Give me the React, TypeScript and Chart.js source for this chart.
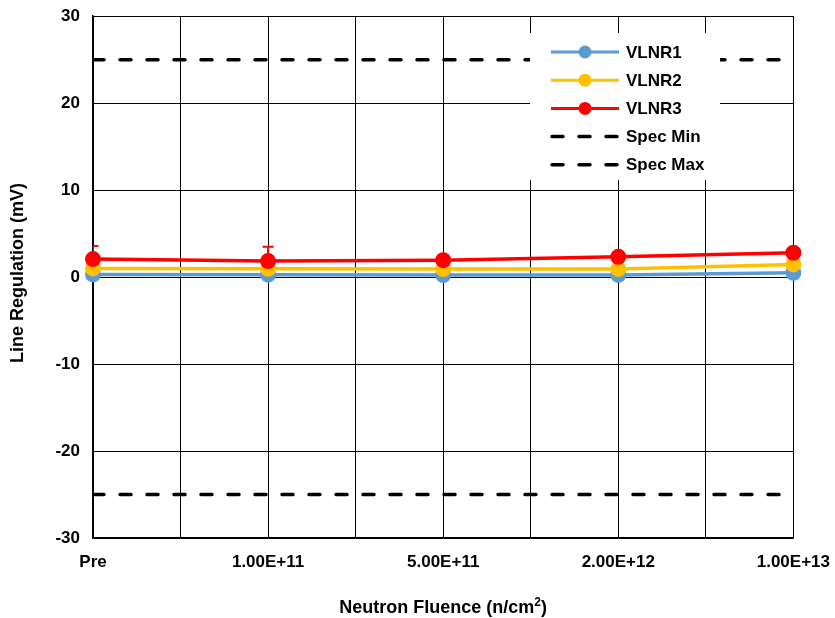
import React, { useEffect, useRef } from "react";
import { Chart, registerables } from "chart.js";

Chart.register(...registerables);

const categories = ["Pre", "1.00E+11", "5.00E+11", "2.00E+12", "1.00E+13"];
const vlnr1 = [0.31, 0.28, 0.23, 0.25, 0.5];
const vlnr2 = [1.0, 0.95, 0.92, 0.92, 1.46];
const vlnr3 = [2.07, 1.84, 1.95, 2.33, 2.8];
const vlnr3ErrUp = [1.5, 1.65, 0, 0, 0];
const specMin = [-25, -25, -25, -25, -25];
const specMax = [25, 25, 25, 25, 25];
const yTicks = [-30, -20, -10, 0, 10, 20, 30];
const xTitle = "Neutron Fluence (n/cm";
const xTitleSup = "2";
const xTitleEnd = ")";
const yTitle = "Line Regulation (mV)";

const BLUE = "#5B9BD5";
const YELLOW = "#FFC000";
const RED = "#FF0000";
const FONT = "'Liberation Sans', Arial, sans-serif";
const OFFSET_Y = 7;

const legendItems = [
  { label: "VLNR1", color: BLUE, dashed: false },
  { label: "VLNR2", color: YELLOW, dashed: false },
  { label: "VLNR3", color: RED, dashed: false },
  { label: "Spec Min", color: "#000", dashed: true },
  { label: "Spec Max", color: "#000", dashed: true },
];

const toXY = (arr: number[]) => arr.map((v, i) => ({ x: i, y: v }));

const errorBarPlugin = {
  id: "errorBars",
  beforeDatasetsDraw(chart: any) {
    const { ctx, chartArea, scales } = chart;
    ctx.save();
    ctx.beginPath();
    ctx.rect(chartArea.left, chartArea.top, chartArea.right - chartArea.left, chartArea.bottom - chartArea.top);
    ctx.clip();
    ctx.strokeStyle = RED;
    ctx.lineWidth = 2;
    vlnr3.forEach((v, i) => {
      const e = vlnr3ErrUp[i];
      if (!e) return;
      const x = scales.x.getPixelForValue(i);
      const y0 = scales.y.getPixelForValue(v);
      const y1 = scales.y.getPixelForValue(v + e);
      ctx.beginPath();
      ctx.moveTo(x, y0);
      ctx.lineTo(x, y1);
      ctx.moveTo(x - 5.5, y1);
      ctx.lineTo(x + 5.5, y1);
      ctx.stroke();
    });
    ctx.restore();
  },
};

const titlesPlugin = {
  id: "axisTitles",
  afterDraw(chart: any) {
    const { ctx, chartArea } = chart;
    ctx.save();
    ctx.fillStyle = "#000";
    ctx.font = `bold 18px ${FONT}`;
    const w1 = ctx.measureText(xTitle).width;
    ctx.font = `bold 12px ${FONT}`;
    const w2 = ctx.measureText(xTitleSup).width;
    ctx.font = `bold 18px ${FONT}`;
    const w3 = ctx.measureText(xTitleEnd).width;
    const total = w1 + w2 + w3;
    const cx = (chartArea.left + chartArea.right) / 2;
    let x = cx - total / 2;
    const base = 613 + OFFSET_Y;
    ctx.textAlign = "left";
    ctx.textBaseline = "alphabetic";
    ctx.fillText(xTitle, x, base);
    x += w1;
    ctx.font = `bold 12px ${FONT}`;
    ctx.fillText(xTitleSup, x, base - 7);
    x += w2;
    ctx.font = `bold 18px ${FONT}`;
    ctx.fillText(xTitleEnd, x, base);
    ctx.translate(18, (chartArea.top + chartArea.bottom) / 2 - 4);
    ctx.rotate(-Math.PI / 2);
    ctx.textAlign = "center";
    ctx.textBaseline = "middle";
    ctx.fillText(yTitle, 0, 0);
    ctx.restore();
  },
};

const legendPlugin = {
  id: "insideLegend",
  afterDatasetsDraw(chart: any) {
    const { ctx } = chart;
    ctx.save();
    ctx.fillStyle = "#fff";
    ctx.fillRect(530, 33 + OFFSET_Y, 190, 147);
    legendItems.forEach((it, i) => {
      const y = 52 + OFFSET_Y + i * 28.2;
      ctx.strokeStyle = it.color;
      ctx.lineWidth = it.dashed ? 3.5 : 3;
      if (it.dashed) {
        ctx.setLineDash([11, 16]);
        ctx.lineCap = "round";
      } else {
        ctx.setLineDash([]);
        ctx.lineCap = "butt";
      }
      ctx.beginPath();
      ctx.moveTo(it.dashed ? 552 : 551, y);
      ctx.lineTo(619, y);
      ctx.stroke();
      ctx.setLineDash([]);
      if (!it.dashed) {
        ctx.fillStyle = it.color;
        ctx.beginPath();
        ctx.arc(585, y, 6.5, 0, Math.PI * 2);
        ctx.fill();
      }
      ctx.fillStyle = "#000";
      ctx.font = `bold 17px ${FONT}`;
      ctx.textBaseline = "middle";
      ctx.textAlign = "left";
      ctx.fillText(it.label, 626, y + 1);
    });
    ctx.restore();
  },
};

export default function App() {
  const ref = useRef<HTMLCanvasElement | null>(null);
  useEffect(() => {
    document.body.style.margin = "0";
    const canvas = ref.current;
    if (!canvas) return;
    const lineDs = (label: string, data: number[], color: string, order: number) => ({
      label,
      data: toXY(data),
      borderColor: color,
      backgroundColor: color,
      borderWidth: 3.5,
      pointRadius: 8,
      pointHoverRadius: 8,
      pointBorderWidth: 0,
      pointBackgroundColor: color,
      clip: false,
      order,
    });
    const dashDs = (label: string, data: number[], order: number) => ({
      label,
      data: toXY(data),
      borderColor: "#000",
      backgroundColor: "#000",
      borderWidth: 3.5,
      borderDash: [11, 16],
      borderCapStyle: "round",
      pointRadius: 0,
      order,
    });
    const chart = new Chart(canvas, {
      type: "line",
      data: {
        datasets: [
          lineDs("VLNR1", vlnr1, BLUE, 3),
          lineDs("VLNR2", vlnr2, YELLOW, 2),
          lineDs("VLNR3", vlnr3, RED, 1),
          dashDs("Spec Min", specMin, 4),
          dashDs("Spec Max", specMax, 5),
        ] as any,
      },
      options: {
        animation: false,
        responsive: false,
        maintainAspectRatio: false,
        layout: { padding: { left: 0, right: 33, top: 9, bottom: 0 } },
        plugins: { legend: { display: false }, tooltip: { enabled: false } },
        scales: {
          x: {
            type: "linear",
            min: 0,
            max: categories.length - 1,
            afterBuildTicks: (scale: any) => {
              const t = [];
              for (let v = 0; v <= categories.length - 1 + 1e-9; v += 0.5) t.push({ value: v });
              scale.ticks = t;
            },
            afterFit: (scale: any) => {
              scale.height = 80;
            },
            grid: { color: "#000", lineWidth: 1, drawTicks: false },
            border: { color: "#000", width: 1.5 },
            ticks: {
              autoSkip: false,
              maxRotation: 0,
              padding: 14,
              color: "#000",
              font: { family: FONT, size: 17, weight: "bold" },
              callback: (v: any) => (Number.isInteger(v) ? categories[v] : ""),
            },
            title: { display: false },
          },
          y: {
            min: -30,
            max: 30,
            afterBuildTicks: (scale: any) => {
              scale.ticks = yTicks.map((v) => ({ value: v }));
            },
            afterFit: (scale: any) => {
              scale.width = 93;
            },
            grid: { color: "#000", lineWidth: 1, drawTicks: false },
            border: { color: "#000", width: 1.5 },
            ticks: {
              padding: 13,
              color: "#000",
              font: { family: FONT, size: 17, weight: "bold" },
            },
            title: { display: false },
          },
        },
      } as any,
      plugins: [errorBarPlugin, legendPlugin, titlesPlugin],
    });
    return () => chart.destroy();
  }, []);
  return (
    <div style={{ width: 835, height: 618, overflow: "hidden", position: "relative" }}>
      <canvas
        ref={ref}
        width={844}
        height={625}
        style={{ display: "block", width: 844, height: 625, position: "absolute", left: 0, top: -OFFSET_Y }}
      />
    </div>
  );
}
